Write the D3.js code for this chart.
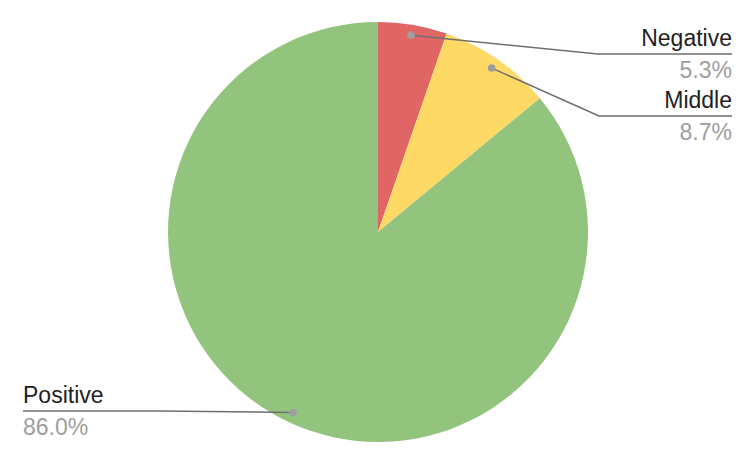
<!DOCTYPE html>
<html>
<head>
<meta charset="utf-8">
<script src="https://cdn.jsdelivr.net/npm/d3@7"></script>
<style>
  body { margin: 0; background: #fff; }
  text { font-family: "Liberation Sans", Arial, sans-serif; }
</style>
</head>
<body>
<div id="chart"></div>
<script>
// chart values
var categories = ["Negative", "Middle", "Positive"];
var values = [5.3, 8.7, 86.0];
var colors = ["#e06666", "#ffd966", "#93c47d"];

var svgWidth = 756;
var svgHeight = 466;
var cx = 378, cy = 232, radius = 210;

var svg = d3.select("#chart")
  .append("svg")
  .attr("width", svgWidth)
  .attr("height", svgHeight);

var pieGroup = svg.append("g")
  .attr("transform", `translate(${cx}, ${cy})`);

var pie = d3.pie().sort(null).value(d => d);
var arcs = pie(values);

var arc = d3.arc().innerRadius(0).outerRadius(radius);
var dotArc = d3.arc().innerRadius(radius * 0.95).outerRadius(radius * 0.95);

pieGroup.selectAll("path")
  .data(arcs)
  .enter()
  .append("path")
  .attr("d", arc)
  .attr("fill", (d, i) => colors[i]);

// label layout: right side labels stacked from top, left side label near bottom
var labelPos = [
  { side: "right", lineY: 54, elbowX: 598 },
  { side: "right", lineY: 116, elbowX: 599 },
  { side: "left", lineY: 411, elbowX: 160 }
];

var labels = svg.append("g");

arcs.forEach(function(d, i) {
  var p = dotArc.centroid(d);
  var dx = cx + p[0], dy = cy + p[1];
  var lp = labelPos[i];
  var endX = lp.side === "right" ? 732 : 23;
  var anchor = lp.side === "right" ? "end" : "start";

  labels.append("polyline")
    .attr("points", `${dx},${dy} ${lp.elbowX},${lp.lineY} ${endX},${lp.lineY}`)
    .attr("fill", "none")
    .attr("stroke", "#6f6f6f")
    .attr("stroke-width", 1.5);

  labels.append("circle")
    .attr("cx", dx)
    .attr("cy", dy)
    .attr("r", 3.8)
    .attr("fill", "#9e9e9e");

  labels.append("text")
    .attr("x", endX)
    .attr("y", lp.lineY - 8)
    .attr("text-anchor", anchor)
    .attr("font-size", 23)
    .attr("fill", "#222")
    .text(categories[i]);

  labels.append("text")
    .attr("x", endX)
    .attr("y", lp.lineY + 24)
    .attr("text-anchor", anchor)
    .attr("font-size", 23)
    .attr("fill", "#9e9e9e")
    .text(values[i].toFixed(1) + "%");
});
</script>
</body>
</html>
